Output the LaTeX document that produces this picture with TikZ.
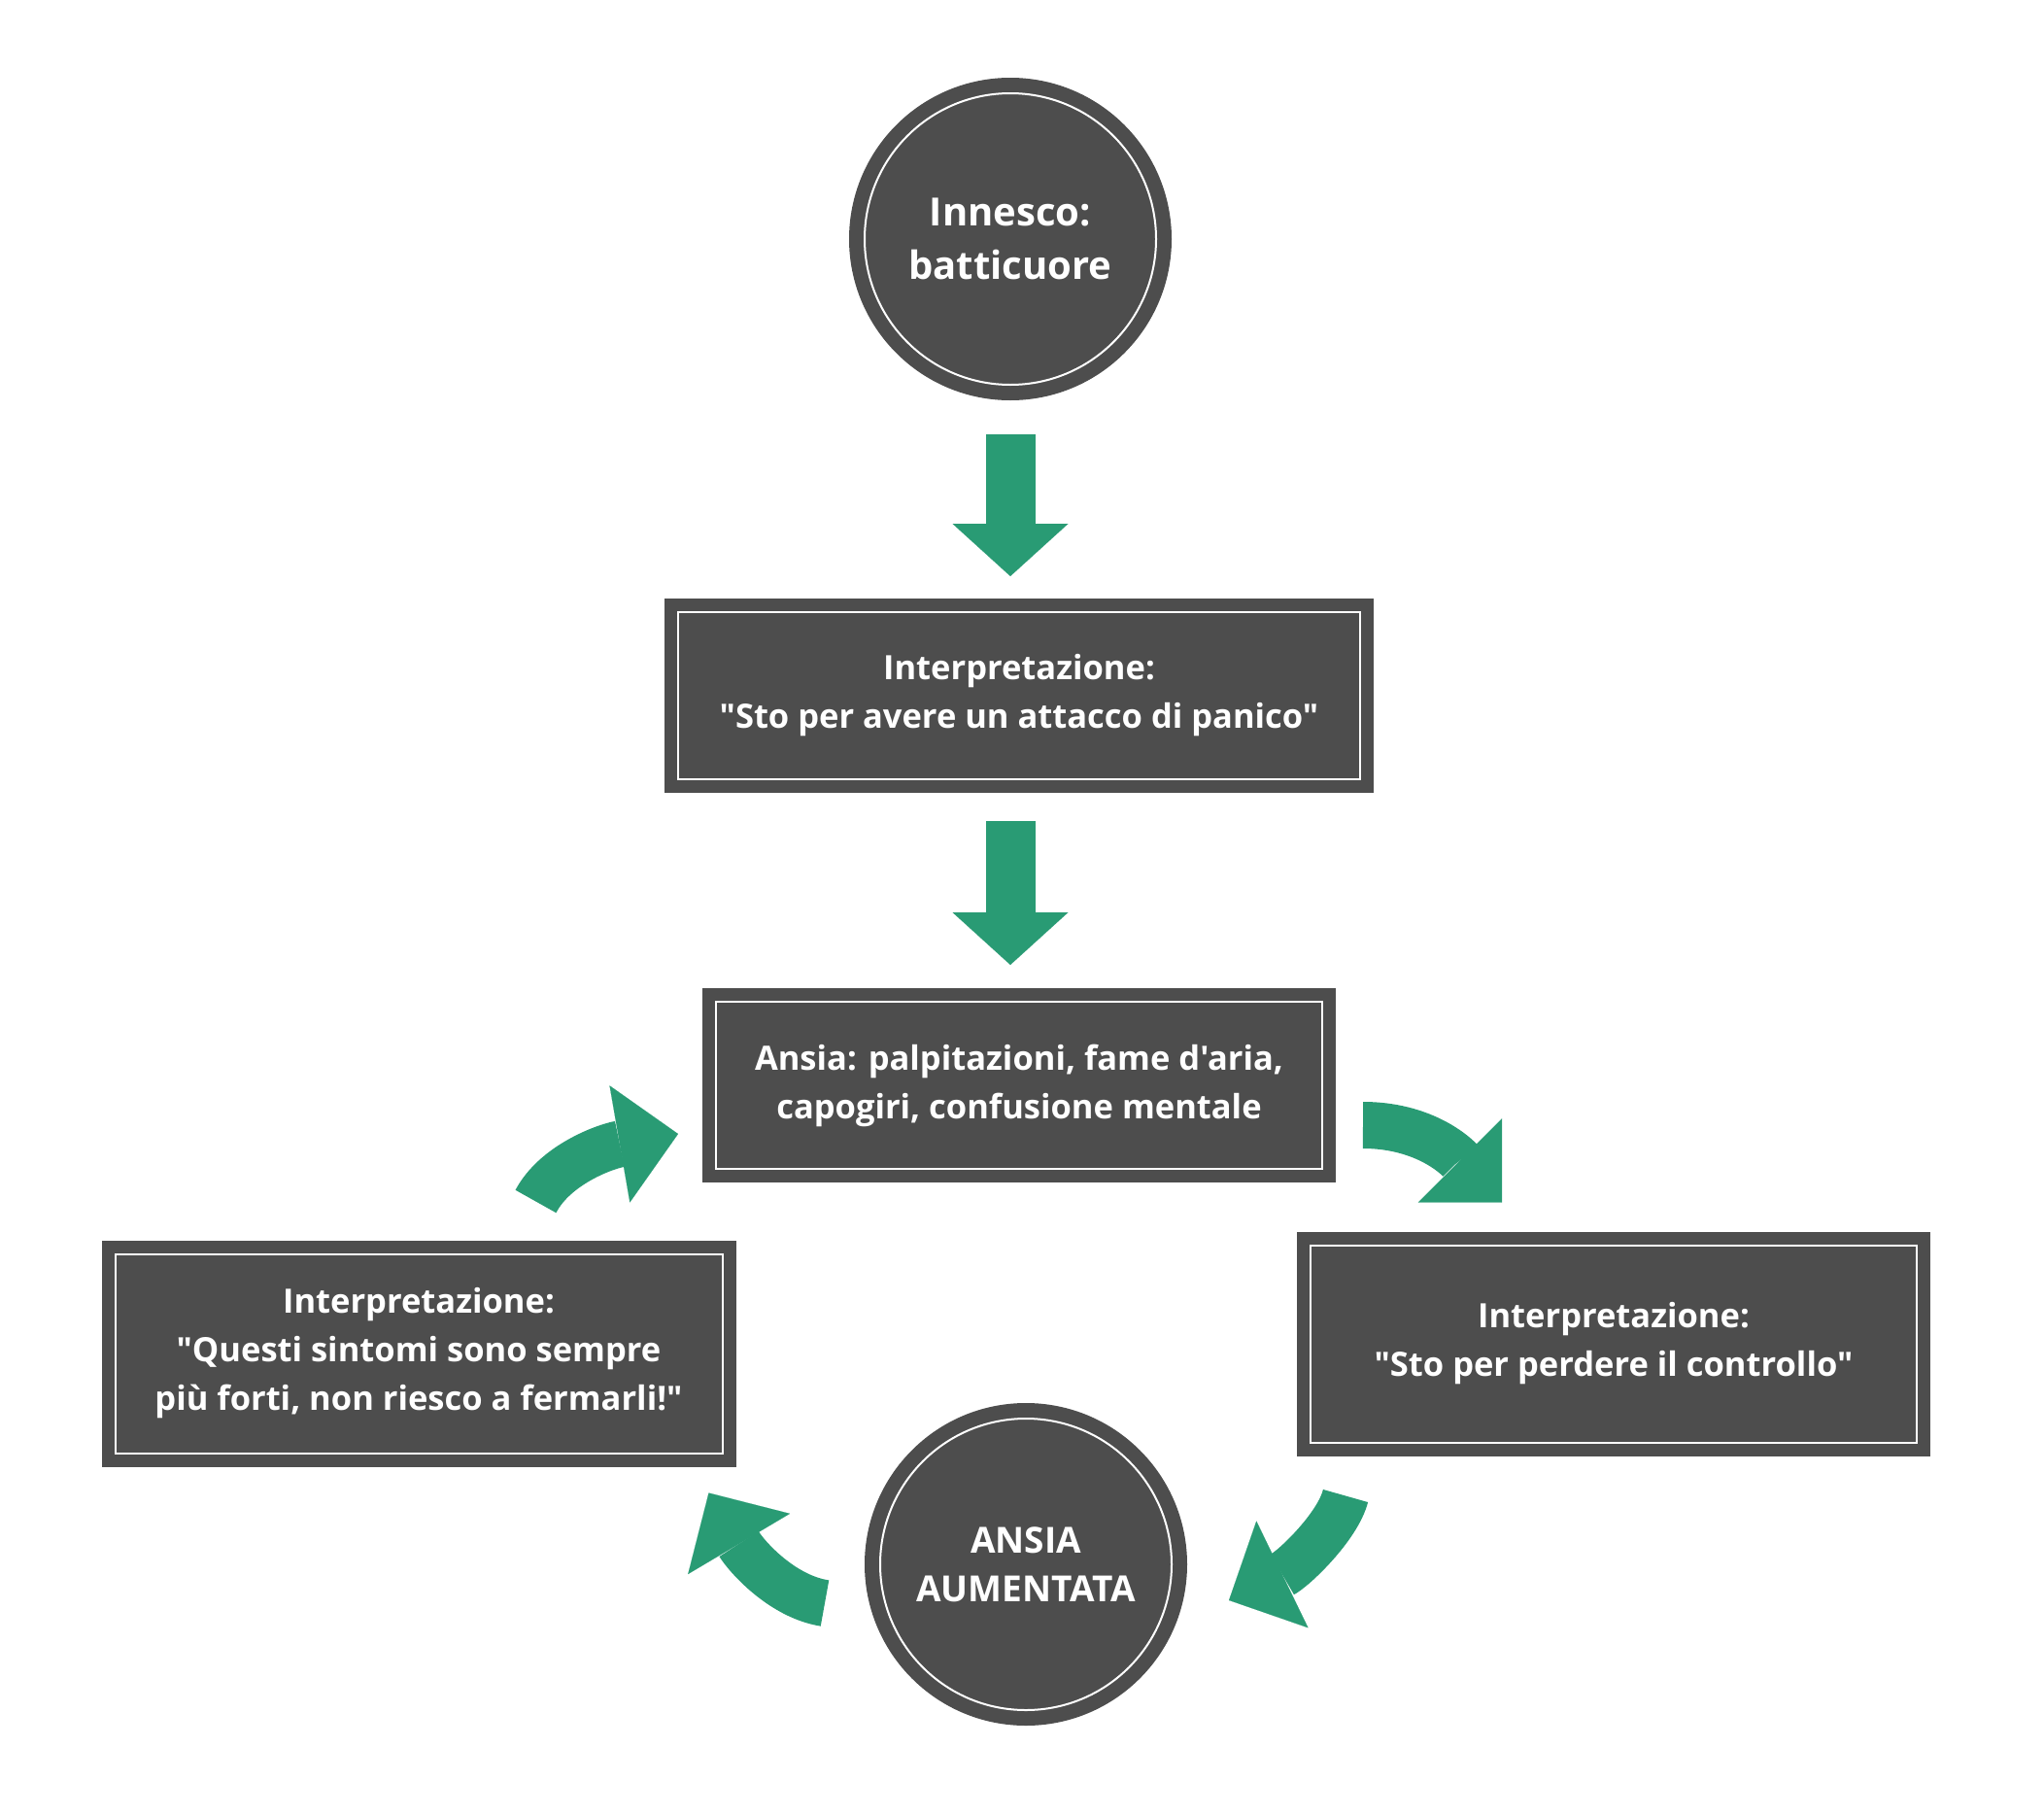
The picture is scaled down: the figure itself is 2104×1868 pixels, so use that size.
\documentclass[tikz,border=0pt]{standalone}
\usepackage{fontspec}
\setmainfont{Open Sans}[Ligatures=TeXOff]
\usetikzlibrary{positioning,arrows.meta,calc}
\definecolor{boxgray}{RGB}{77,77,77}
\definecolor{arrowgreen}{RGB}{41,155,116}

\tikzset{
  panelbox/.style={rectangle, fill=boxgray, text=white, inner sep=0pt, outer sep=0pt, align=center,
    font=\fontsize{34.5}{50}\selectfont\bfseries,
    path picture={\draw[white, line width=2pt]
      ([shift={(14pt,-14pt)}]path picture bounding box.north west) rectangle
      ([shift={(-14pt,14pt)}]path picture bounding box.south east);}},
  roundbox/.style={circle, fill=boxgray, text=white, minimum size=332pt, inner sep=0pt, outer sep=0pt, align=center,
    path picture={\draw[white, line width=2pt] (path picture bounding box.center) circle (150pt);}},
  fatarrow/.style={draw=arrowgreen, line width=51pt, -{Triangle[length=54pt, width=119pt, line width=0.1pt]}},
  bentarrow/.style={draw=arrowgreen, line width=48pt, -{Triangle[length=61pt, width=122pt, line width=0.1pt]}},
}

\begin{document}
\begin{tikzpicture}[x=1pt, y=-1pt]
  \useasboundingbox (0,0) rectangle (2104,1868);

  % Trigger
  \node[roundbox, font=\fontsize{40}{55}\selectfont\bfseries] (trigger) at (1040,246) {Innesco:\\batticuore};

  % First interpretation
  \node[panelbox, minimum width=730pt, minimum height=200pt] (interp) at (1049,716)
    {Interpretazione:\\"Sto per avere un attacco di panico"};

  % Anxiety symptoms
  \node[panelbox, minimum width=652pt, minimum height=200pt] (ansia) at (1049,1117)
    {Ansia: palpitazioni, fame d'aria,\\capogiri, confusione mentale};

  % Right interpretation
  \node[panelbox, minimum width=652pt, minimum height=231pt] (ctrl) at (1661,1383)
    {Interpretazione:\\"Sto per perdere il controllo"};

  % Left interpretation
  \node[panelbox, minimum width=653pt, minimum height=233pt] (perc) at (431,1393)
    {Interpretazione:\\"Questi sintomi sono sempre\\più forti, non riesco a fermarli!"};

  % Increased anxiety
  \node[roundbox, font=\fontsize{37}{50}\selectfont\bfseries] (aum) at (1056,1610) {ANSIA\\AUMENTATA};

  % Straight arrows
  \draw[fatarrow] ([yshift=-35pt]trigger.south) -- ([yshift=23pt]trigger.south |- interp.north);
  \draw[fatarrow] ([yshift=-29pt]trigger.south |- interp.south) -- ([yshift=24pt]trigger.south |- ansia.north);

  % Cycle arrows
  \draw[bentarrow] ($(ansia.east)+(28,41)$) .. controls +(70,0) and +(-40,-40) .. ($(ctrl.north west)+(211,-30)$);
  \draw[bentarrow] ($(ctrl.south west)+(50,41)$) .. controls +(-8,32) and +(66,-32) .. ($(aum.east)+(43,37)$);
  \draw[bentarrow] ($(aum.west)+(-41,40)$) .. controls +(-45,-7) and +(38,64) .. ($(perc.south east)+(-28,27)$);
  \draw[bentarrow] ($(perc.north east)+(-206,-40)$) .. controls +(20,-38) and +(-75,13) .. ($(ansia.west)+(-25,50)$);
\end{tikzpicture}
\end{document}
